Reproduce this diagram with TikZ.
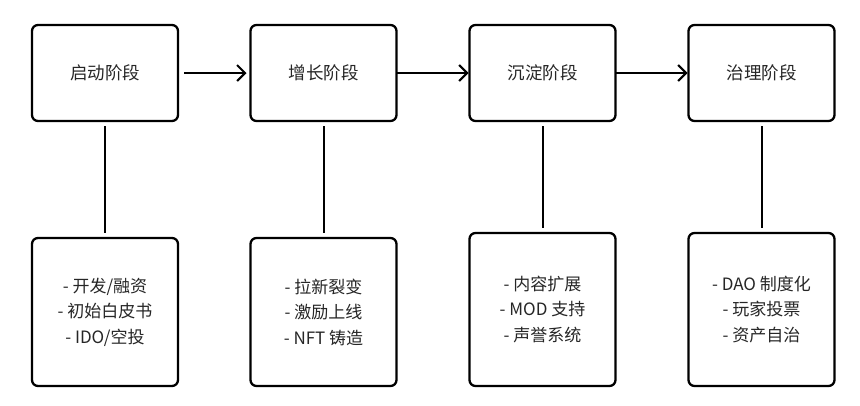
\documentclass[tikz,border=0pt]{standalone}
\usepackage{fontspec}
\newfontfamily\cjk{Noto Sans CJK SC}
\usetikzlibrary{arrows.meta}
\begin{document}
\begin{tikzpicture}[x=1pt,y=-1pt,
  box/.style={draw=black,line width=2.3pt,rounded corners=6pt,minimum width=146pt,inner sep=0pt,outer sep=0pt,
    align=center,font=\cjk\fontsize{17}{25.5}\selectfont,text=black!85},
  topbox/.style={box,minimum height=96pt,font=\cjk\fontsize{17.5}{21}\selectfont},
  link/.style={line width=2pt},
  flow/.style={line width=2pt,-{Straight Barb[length=8pt,width=16pt,line width=2pt]}}]
\useasboundingbox[fill=white] (0,0) rectangle (860,405);
\node[topbox] (t1) at (105,73) {启动阶段};
\node[topbox] (t2) at (323.5,73) {增长阶段};
\node[topbox] (t3) at (542.5,73) {沉淀阶段};
\node[topbox] (t4) at (761.5,73) {治理阶段};
\node[box,minimum height=148pt] (b1) at (105,312) {- 开发/融资\\- 初始白皮书\\- IDO/空投};
\node[box,minimum height=148pt] (b2) at (323.5,312) {- 拉新裂变\\- 激励上线\\- NFT 铸造};
\node[box,minimum height=153pt] (b3) at (542.5,309.5) {- 内容扩展\\- MOD 支持\\- 声誉系统};
\node[box,minimum height=153pt] (b4) at (761.5,309.5) {- DAO 制度化\\- 玩家投票\\- 资产自治};
\draw[flow] ([xshift=6pt]t1.east) -- ([xshift=-4pt]t2.west);
\draw[flow] (t2.east) -- ([xshift=-1pt]t3.west);
\draw[flow] (t3.east) -- ([xshift=-1pt]t4.west);
\foreach \i in {1,2,3,4} {
  \draw[link] ([yshift=-5pt]t\i.south) -- ([yshift=5pt]b\i.north);
}
\end{tikzpicture}
\end{document}
